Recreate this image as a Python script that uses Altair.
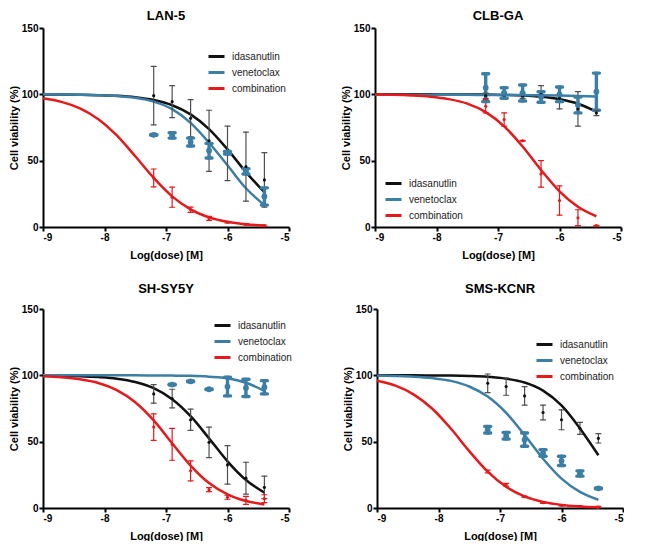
import altair as alt
import pandas as pd

SERIES = ["idasanutlin", "venetoclax", "combination"]
LINE_COLORS = ["#111111", "#3b7ea6", "#e41a1c"]
BAR_COLORS = ["#505050", "#3b7ea6", "#e41a1c"]

X_TICKS = [-9, -8, -7, -6, -5]
Y_TICKS = [0, 50, 100, 150]

# x positions (log dose) of the read curve samples and of the measured doses
CURVE_X = [-9.0, -8.7, -8.4, -8.1, -7.8, -7.5, -7.2, -6.9, -6.6, -6.3, -6.0, -5.7, -5.4]
DOSES = [-7.2, -6.9, -6.6, -6.3, -6.0, -5.7, -5.4]

# ---------------- LAN-5 ----------------
LAN5_CURVE_IDA = [99.9, 99.9, 99.7, 99.4, 98.9, 97.8, 95.7, 91.8, 84.9, 73.8, 58.5, 41.4, 26.2]
LAN5_CURVE_VEN = [100.0, 99.9, 99.7, 99.4, 98.8, 97.4, 94.5, 88.8, 78.5, 63.5, 46.5, 29.2, 16.5]
LAN5_CURVE_COMB = [97.0, 94.3, 89.4, 81.3, 69.0, 53.3, 37.0, 23.1, 13.3, 7.3, 3.9, 2.0, 1.1]
LAN5_MEAN_IDA = [99, 94.5, 82, 65, 55.5, 45.5, 35.5]
LAN5_ERR_IDA = [22, 12, 14, 23, 20.5, 26, 20.5]
LAN5_MEAN_VEN = [69.5, 69, 64, 57.5, 56, 42, 23]
LAN5_ERR_VEN = [0.3, 2, 3, 5.5, 1, 2, 6.5]
LAN5_MEAN_COMB = [37, 22.5, 13, 6.5, 3.5, 2, 1]
LAN5_ERR_COMB = [6.7, 7.6, 2, 1.5, 0.5, 0.5, 0.5]

# ---------------- CLB-GA ----------------
CLB_CURVE_IDA = [100, 100, 100, 100, 99.9, 99.9, 99.8, 99.5, 99.1, 98.1, 96.3, 92.9, 86.9]
CLB_CURVE_VEN = [99.6, 99.6, 99.6, 99.6, 99.6, 99.6, 99.5, 99.5, 99.4, 99.3, 99.1, 98.8, 98.4]
CLB_CURVE_COMB = [99.8, 99.6, 99.1, 98.2, 96.4, 93.0, 86.6, 75.9, 60.7, 43.0, 26.9, 15.3, 8.1]
CLB_MEAN_IDA = [99, 99.5, 99, 100, 97, 89, 86]
CLB_ERR_IDA = [2, 2, 2, 6.5, 8, 13, 2]
CLB_MEAN_VEN = [105, 101, 101, 98, 100, 92, 102]
CLB_ERR_VEN = [10.5, 4, 6, 4, 5.5, 6, 14]
CLB_MEAN_COMB = [91, 81, 65, 40, 20, 7, 1]
CLB_ERR_COMB = [5, 5, 0.3, 10, 11, 6, 0.3]

# ---------------- SH-SY5Y ----------------
SHS_CURVE_IDA = [99.8, 99.7, 99.4, 98.7, 97.5, 95.0, 90.3, 82.0, 69.2, 52.5, 35.2, 21.1, 11.6]
SHS_CURVE_VEN = [100, 100, 100, 100, 100, 100, 99.9, 99.8, 99.6, 99.0, 97.8, 94.4, 88.3]
SHS_CURVE_COMB = [99.3, 98.5, 97.0, 94.2, 88.8, 79.7, 66.0, 48.8, 32.0, 18.8, 10.3, 5.3, 2.7]
SHS_MEAN_IDA = [86, 82.5, 66.5, 49.5, 32.5, 22.5, 15.5]
SHS_ERR_IDA = [7, 7, 8, 11.5, 14.5, 12, 8.5]
SHS_MEAN_VEN = [None, 93, 95.5, 89.5, 91.5, 90.5, 91]
SHS_ERR_VEN = [None, 0.3, 0.3, 0.3, 7, 6.5, 5]
SHS_MEAN_COMB = [61, 48, 28, 13.8, 8.1, 5.7, 7]
SHS_ERR_COMB = [10, 12, 7.5, 1.5, 1.5, 3, 3]

# ---------------- SMS-KCNR ----------------
SMS_CURVE_IDA = [100, 100, 100, 99.9, 99.8, 99.5, 98.9, 97.5, 94.6, 88.5, 77.3, 60.0, 39.8]
SMS_CURVE_VEN = [99.8, 99.5, 99.0, 97.9, 95.8, 91.6, 84.0, 71.7, 55.0, 37.1, 22.1, 12.1, 6.2]
SMS_CURVE_COMB = [95.9, 92.2, 85.5, 74.8, 59.9, 42.9, 27.4, 16.0, 8.7, 4.6, 2.3, 1.2, 0.6]
SMS_MEAN_IDA = [94, 91.5, 84.5, 72, 66.5, 60, 52.5]
SMS_ERR_IDA = [7, 6.5, 7, 5.5, 7.5, 4.5, 3.5]
SMS_MEAN_VEN = [59, 54.5, 51.5, 41.5, 35.5, 26, 14.8]
SMS_ERR_VEN = [2.5, 2.5, 5, 2.5, 3.5, 2, 0.3]
SMS_MEAN_COMB = [27.5, 17.5, 8.5, 4, 2, 1.2, 0.7]
SMS_ERR_COMB = [1, 1, 0.5, 0.5, 0.5, 0.5, 0.5]

FONT = "Liberation Sans"
PW, PH = 246, 199


def ordinal(rng):
    return alt.Scale(type="ordinal", domain=SERIES, range=rng)


def panel(title, curves, means, errs, leg_x, leg_y, title_offset):
    crow = []
    for s, ys in zip(SERIES, curves):
        for xv, yv in zip(CURVE_X, ys):
            crow.append({"series": s, "logdose": xv, "viability": yv})
    prow = []
    for s, ms, es in zip(SERIES, means, errs):
        for xv, m, e in zip(DOSES, ms, es):
            if m is None:
                continue
            prow.append({"series": s, "logdose": xv, "viability": m, "lo": m - e, "hi": m + e})
    cdf = pd.DataFrame(crow)
    pdf = pd.DataFrame(prow)

    xenc = alt.X("logdose:Q", scale=alt.Scale(domain=[-9, -5], nice=False, zero=False),
                 axis=alt.Axis(values=X_TICKS, title="Log(dose) [M]", labelExpr="'' + datum.value",
                               titlePadding=7))
    yaxis = alt.Axis(values=Y_TICKS, title="Cell viability (%)", titlePadding=2)
    yscale = alt.Scale(domain=[0, 150], nice=False)

    stroke_enc = alt.Stroke("series:N", scale=alt.Scale(domain=SERIES, range=BAR_COLORS), legend=None)
    sw_enc = alt.StrokeWidth("series:N", scale=ordinal([1.2, 3.4, 1.2]), legend=None)

    lines = alt.Chart(cdf).mark_line(strokeWidth=2.5, interpolate="monotone").encode(
        x=xenc,
        y=alt.Y("viability:Q", scale=yscale, axis=yaxis),
        color=alt.Color("series:N", scale=alt.Scale(domain=SERIES, range=LINE_COLORS),
                        legend=alt.Legend(title=None, orient="none", legendX=leg_x, legendY=leg_y,
                                          symbolType="stroke", symbolSize=256, symbolStrokeWidth=3,
                                          labelFont=FONT, labelFontSize=10, labelColor="#222222",
                                          rowPadding=0, labelOffset=6, padding=0)),
    )
    rules = alt.Chart(pdf).mark_rule(strokeCap="round").encode(
        x=xenc,
        y=alt.Y("lo:Q", scale=yscale, axis=yaxis),
        y2="hi:Q",
        stroke=stroke_enc,
        strokeWidth=sw_enc,
    )
    cap_size = alt.Size("series:N", scale=ordinal([25, 36, 25]), legend=None)
    caps_lo = alt.Chart(pdf).mark_point(shape="stroke", filled=False, opacity=1, strokeCap="round").encode(
        x=xenc, y=alt.Y("lo:Q", scale=yscale, axis=yaxis),
        stroke=stroke_enc, strokeWidth=sw_enc, size=cap_size)
    caps_hi = alt.Chart(pdf).mark_point(shape="stroke", filled=False, opacity=1, strokeCap="round").encode(
        x=xenc, y=alt.Y("hi:Q", scale=yscale, axis=yaxis),
        stroke=stroke_enc, strokeWidth=sw_enc, size=cap_size)
    pts = alt.Chart(pdf).mark_circle(opacity=1).encode(
        x=xenc, y=alt.Y("viability:Q", scale=yscale, axis=yaxis),
        fill=alt.Fill("series:N", scale=alt.Scale(domain=SERIES, range=LINE_COLORS), legend=None),
        size=alt.Size("series:N", scale=ordinal([10, 34, 10]), legend=None),
    )
    return alt.layer(lines, rules, caps_lo, caps_hi, pts).resolve_scale(size="independent").properties(
        width=PW, height=PH,
        title=alt.TitleParams(title, font=FONT, fontSize=13, fontWeight="bold", color="black",
                              offset=title_offset, frame="group", anchor="middle"),
    )


p1 = panel("LAN-5", [LAN5_CURVE_IDA, LAN5_CURVE_VEN, LAN5_CURVE_COMB],
           [LAN5_MEAN_IDA, LAN5_MEAN_VEN, LAN5_MEAN_COMB], [LAN5_ERR_IDA, LAN5_ERR_VEN, LAN5_ERR_COMB],
           164, 19, 0)
p2 = panel("CLB-GA", [CLB_CURVE_IDA, CLB_CURVE_VEN, CLB_CURVE_COMB],
           [CLB_MEAN_IDA, CLB_MEAN_VEN, CLB_MEAN_COMB], [CLB_ERR_IDA, CLB_ERR_VEN, CLB_ERR_COMB],
           9, 146, 0)
p3 = panel("SH-SY5Y", [SHS_CURVE_IDA, SHS_CURVE_VEN, SHS_CURVE_COMB],
           [SHS_MEAN_IDA, SHS_MEAN_VEN, SHS_MEAN_COMB], [SHS_ERR_IDA, SHS_ERR_VEN, SHS_ERR_COMB],
           170, 7, 8)
p4 = panel("SMS-KCNR", [SMS_CURVE_IDA, SMS_CURVE_VEN, SMS_CURVE_COMB],
           [SMS_MEAN_IDA, SMS_MEAN_VEN, SMS_MEAN_COMB], [SMS_ERR_IDA, SMS_ERR_VEN, SMS_ERR_COMB],
           158, 26, 8)

res = dict(color="independent", fill="independent", stroke="independent")
row1 = alt.hconcat(p1, p2, spacing=50).resolve_scale(**res).resolve_legend(color="independent")
row2 = alt.hconcat(p3, p4, spacing=50).resolve_scale(**res).resolve_legend(color="independent")

chart = alt.vconcat(row1, row2, spacing=23).resolve_scale(**res).resolve_legend(
    color="independent"
).properties(padding={"left": 0, "top": 2, "right": 0, "bottom": 0}).configure_view(stroke=None).configure_axis(
    grid=False, domainColor="black", domainWidth=2, tickColor="black", tickWidth=2, tickSize=4,
    labelFont=FONT, labelFontWeight="bold", labelFontSize=10, labelColor="black", labelPadding=1,
    titleFont=FONT, titleFontWeight="bold", titleFontSize=11, titleColor="black",
)

chart.save("out.html", embed_options={"renderer": "svg", "actions": False})
